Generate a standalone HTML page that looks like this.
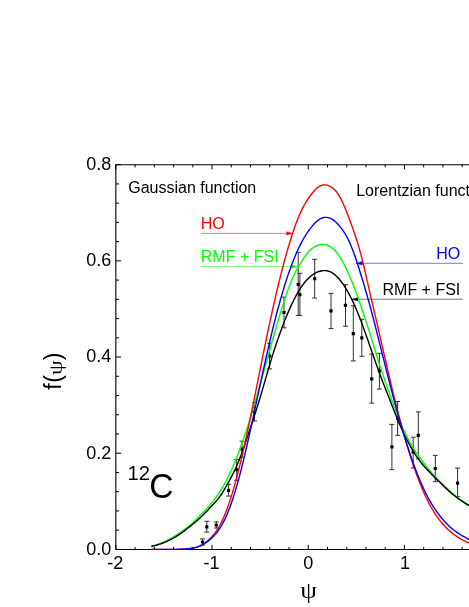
<!DOCTYPE html>
<html><head><meta charset="utf-8"><title>f(psi) 12C</title>
<style>html,body{margin:0;padding:0;background:#fff;}body{width:469px;height:607px;overflow:hidden;font-family:"Liberation Sans",sans-serif;}.sans text{font-family:"Liberation Sans",sans-serif;}.sans text.serif{font-family:"Liberation Serif",serif;}</style>
</head><body>
<svg width="469" height="607" viewBox="0 0 469 607" style="display:block;will-change:transform">
<rect width="469" height="607" fill="#fff"/>
<g fill="none" stroke="#303030" stroke-width="1.0"><path d="M202.5,538.9V545.1M200.1,538.9h4.9M200.1,545.1h4.9" /><path d="M206.8,521.3V532.1M204.4,521.3h4.9M204.4,532.1h4.9" /><path d="M216.3,521.9V528.0M213.9,521.9h4.9M213.9,528.0h4.9" /><path d="M228.6,484.3V496.1M226.2,484.3h4.9M226.2,496.1h4.9" /><path d="M236.7,459.5V480.3M234.2,459.5h4.9M234.2,480.3h4.9" /><path d="M242.0,441.2V457.2M239.6,441.2h4.9M239.6,457.2h4.9" /><path d="M254.5,402.5V421.0M252.1,402.5h4.9M252.1,421.0h4.9" /><path d="M269.6,343.3V368.9M267.2,343.3h4.9M267.2,368.9h4.9" /><path d="M284.0,297.1V327.8M281.6,297.1h4.9M281.6,327.8h4.9" /><path d="M298.2,252.3V315.4M295.8,252.3h4.9M295.8,315.4h4.9" /><path d="M299.9,273.3V315.4M297.4,273.3h4.9M297.4,315.4h4.9" /><path d="M314.7,259.3V298.0M312.2,259.3h4.9M312.2,298.0h4.9" /><path d="M331.0,293.4V328.5M328.6,293.4h4.9M328.6,328.5h4.9" /><path d="M345.5,284.7V326.2M343.1,284.7h4.9M343.1,326.2h4.9" /><path d="M353.3,305.7V360.9M350.9,305.7h4.9M350.9,360.9h4.9" /><path d="M361.8,319.3V356.3M359.4,319.3h4.9M359.4,356.3h4.9" /><path d="M371.7,354.1V403.1M369.2,354.1h4.9M369.2,403.1h4.9" /><path d="M379.4,353.3V389.1M376.9,353.3h4.9M376.9,389.1h4.9" /><path d="M397.6,401.5V435.3M395.2,401.5h4.9M395.2,435.3h4.9" /><path d="M391.9,424.4V469.6M389.4,424.4h4.9M389.4,469.6h4.9" /><path d="M418.3,411.9V458.9M415.9,411.9h4.9M415.9,458.9h4.9" /><path d="M413.2,437.2V468.0M410.8,437.2h4.9M410.8,468.0h4.9" /><path d="M435.3,455.4V481.7M432.9,455.4h4.9M432.9,481.7h4.9" /><path d="M457.6,468.1V496.7M455.2,468.1h4.9M455.2,496.7h4.9" /></g>
<g fill="#000"><rect x="200.9" y="540.4" width="3.2" height="3.2" rx="0.5"/><rect x="205.2" y="525.2" width="3.2" height="3.2" rx="0.5"/><rect x="214.7" y="523.4" width="3.2" height="3.2" rx="0.5"/><rect x="227.0" y="488.8" width="3.2" height="3.2" rx="0.5"/><rect x="235.1" y="468.1" width="3.2" height="3.2" rx="0.5"/><rect x="240.4" y="447.6" width="3.2" height="3.2" rx="0.5"/><rect x="252.9" y="410.4" width="3.2" height="3.2" rx="0.5"/><rect x="268.0" y="354.3" width="3.2" height="3.2" rx="0.5"/><rect x="282.4" y="310.9" width="3.2" height="3.2" rx="0.5"/><rect x="296.6" y="282.7" width="3.2" height="3.2" rx="0.5"/><rect x="298.3" y="293.0" width="3.2" height="3.2" rx="0.5"/><rect x="313.1" y="277.1" width="3.2" height="3.2" rx="0.5"/><rect x="329.4" y="309.2" width="3.2" height="3.2" rx="0.5"/><rect x="343.9" y="303.7" width="3.2" height="3.2" rx="0.5"/><rect x="351.7" y="332.0" width="3.2" height="3.2" rx="0.5"/><rect x="360.2" y="336.3" width="3.2" height="3.2" rx="0.5"/><rect x="370.1" y="377.2" width="3.2" height="3.2" rx="0.5"/><rect x="377.8" y="369.2" width="3.2" height="3.2" rx="0.5"/><rect x="396.0" y="416.8" width="3.2" height="3.2" rx="0.5"/><rect x="390.3" y="445.2" width="3.2" height="3.2" rx="0.5"/><rect x="416.7" y="433.7" width="3.2" height="3.2" rx="0.5"/><rect x="411.6" y="450.6" width="3.2" height="3.2" rx="0.5"/><rect x="433.7" y="466.9" width="3.2" height="3.2" rx="0.5"/><rect x="456.0" y="481.5" width="3.2" height="3.2" rx="0.5"/></g>
<path d="M201,233.4H287.6" stroke="#ff0000" stroke-width="0.55" fill="none"/><path d="M293.0,233.4l-6.4,-1.7v3.4z" fill="#ff0000" stroke="#ff0000" stroke-width="0.4" stroke-linejoin="round"/>
<path d="M201,266.6H292.6" stroke="#00ff00" stroke-width="0.55" fill="none"/><path d="M298.0,266.6l-6.4,-1.7v3.4z" fill="#00ff00" stroke="#00ff00" stroke-width="0.4" stroke-linejoin="round"/>
<path d="M462.9,263.3H361.4" stroke="#0000ff" stroke-width="0.55" fill="none"/><path d="M356.0,263.3l6.4,-1.7v3.4z" fill="#0000ff" stroke="#0000ff" stroke-width="0.4" stroke-linejoin="round"/>
<path d="M462.9,299.2H357.2" stroke="#000000" stroke-width="0.55" fill="none"/><path d="M351.8,299.2l6.4,-1.7v3.4z" fill="#000000" stroke="#000000" stroke-width="0.4" stroke-linejoin="round"/>
<path d="M115.85,550.0999999999999V164.7H470M115.3,549.55H470" fill="none" stroke="#000" stroke-width="1.1"/>
<path d="M115.85,549.40h5.3M115.85,530.16h3.2M115.85,510.93h3.2M115.85,491.69h3.2M115.85,472.46h3.2M115.85,453.22h5.3M115.85,433.98h3.2M115.85,414.75h3.2M115.85,395.51h3.2M115.85,376.28h3.2M115.85,357.04h5.3M115.85,337.80h3.2M115.85,318.57h3.2M115.85,299.33h3.2M115.85,280.10h3.2M115.85,260.86h5.3M115.85,241.62h3.2M115.85,222.39h3.2M115.85,203.15h3.2M115.85,183.92h3.2M115.85,164.68h5.3M115.85,549.55v-4.7M115.85,164.7v4.7M135.09,549.55v-2.7M135.09,164.7v2.7M154.33,549.55v-2.7M154.33,164.7v2.7M173.57,549.55v-2.7M173.57,164.7v2.7M192.81,549.55v-2.7M192.81,164.7v2.7M212.05,549.55v-4.7M212.05,164.7v4.7M231.29,549.55v-2.7M231.29,164.7v2.7M250.53,549.55v-2.7M250.53,164.7v2.7M269.77,549.55v-2.7M269.77,164.7v2.7M289.01,549.55v-2.7M289.01,164.7v2.7M308.25,549.55v-4.7M308.25,164.7v4.7M327.49,549.55v-2.7M327.49,164.7v2.7M346.73,549.55v-2.7M346.73,164.7v2.7M365.97,549.55v-2.7M365.97,164.7v2.7M385.21,549.55v-2.7M385.21,164.7v2.7M404.45,549.55v-4.7M404.45,164.7v4.7M423.69,549.55v-2.7M423.69,164.7v2.7M442.93,549.55v-2.7M442.93,164.7v2.7M462.17,549.55v-2.7M462.17,164.7v2.7" fill="none" stroke="#000" stroke-width="1"/>
<g fill="none" stroke-width="1.4" stroke-linejoin="round">
<path stroke="#00ff00" d="M151.3,546.20 L152.0,546.02 L153.0,545.76 L154.0,545.48 L155.0,545.19 L156.0,544.88 L157.0,544.56 L158.0,544.22 L159.0,543.87 L160.0,543.50 L161.0,543.12 L162.0,542.71 L163.0,542.30 L164.0,541.86 L165.0,541.41 L166.0,540.95 L167.0,540.46 L168.0,539.96 L169.0,539.44 L170.0,538.90 L171.0,538.34 L172.0,537.77 L173.0,537.18 L174.0,536.58 L175.0,535.96 L176.0,535.33 L177.0,534.69 L178.0,534.03 L179.0,533.37 L180.0,532.70 L181.0,532.02 L182.0,531.33 L183.0,530.63 L184.0,529.92 L185.0,529.18 L186.0,528.43 L187.0,527.66 L188.0,526.87 L189.0,526.05 L190.0,525.20 L191.0,524.32 L192.0,523.42 L193.0,522.49 L194.0,521.55 L195.0,520.58 L196.0,519.60 L197.0,518.61 L198.0,517.61 L199.0,516.61 L200.0,515.60 L201.0,514.59 L202.0,513.58 L203.0,512.57 L204.0,511.54 L205.0,510.51 L206.0,509.45 L207.0,508.38 L208.0,507.28 L209.0,506.15 L210.0,505.00 L211.0,503.81 L212.0,502.59 L213.0,501.33 L214.0,500.03 L215.0,498.70 L216.0,497.32 L217.0,495.91 L218.0,494.45 L219.0,492.95 L220.0,491.40 L221.0,489.81 L222.0,488.17 L223.0,486.48 L224.0,484.74 L225.0,482.94 L226.0,481.09 L227.0,479.18 L228.0,477.22 L229.0,475.19 L230.0,473.10 L231.0,470.95 L232.0,468.73 L233.0,466.45 L234.0,464.10 L235.0,461.70 L236.0,459.24 L237.0,456.71 L238.0,454.13 L239.0,451.49 L240.0,448.80 L241.0,446.05 L242.0,443.25 L243.0,440.39 L244.0,437.48 L245.0,434.52 L246.0,431.51 L247.0,428.45 L248.0,425.35 L249.0,422.20 L250.0,419.00 L251.0,415.76 L252.0,412.48 L253.0,409.16 L254.0,405.80 L255.0,402.41 L256.0,398.98 L257.0,395.53 L258.0,392.04 L259.0,388.53 L260.0,385.00 L261.0,381.44 L262.0,377.87 L263.0,374.28 L264.0,370.68 L265.0,367.08 L266.0,363.47 L267.0,359.87 L268.0,356.27 L269.0,352.68 L270.0,349.10 L271.0,345.54 L272.0,342.00 L273.0,338.48 L274.0,334.98 L275.0,331.50 L276.0,328.05 L277.0,324.62 L278.0,321.22 L279.0,317.84 L280.0,314.50 L281.0,311.19 L282.0,307.92 L283.0,304.70 L284.0,301.54 L285.0,298.45 L286.0,295.44 L287.0,292.52 L288.0,289.70 L289.0,286.99 L290.0,284.40 L291.0,281.94 L292.0,279.59 L293.0,277.36 L294.0,275.23 L295.0,273.19 L296.0,271.24 L297.0,269.36 L298.0,267.55 L299.0,265.80 L300.0,264.10 L301.0,262.44 L302.0,260.83 L303.0,259.27 L304.0,257.77 L305.0,256.33 L306.0,254.96 L307.0,253.67 L308.0,252.46 L309.0,251.33 L310.0,250.30 L311.0,249.37 L312.0,248.53 L313.0,247.78 L314.0,247.12 L315.0,246.55 L316.0,246.05 L317.0,245.63 L318.0,245.29 L319.0,245.01 L320.0,244.80 L321.0,244.65 L322.0,244.57 L323.0,244.55 L324.0,244.61 L325.0,244.74 L326.0,244.94 L327.0,245.23 L328.0,245.60 L329.0,246.06 L330.0,246.60 L331.0,247.24 L332.0,247.96 L333.0,248.79 L334.0,249.70 L335.0,250.71 L336.0,251.82 L337.0,253.02 L338.0,254.32 L339.0,255.71 L340.0,257.20 L341.0,258.79 L342.0,260.47 L343.0,262.25 L344.0,264.11 L345.0,266.06 L346.0,268.10 L347.0,270.21 L348.0,272.40 L349.0,274.66 L350.0,277.00 L351.0,279.40 L352.0,281.87 L353.0,284.40 L354.0,286.99 L355.0,289.63 L356.0,292.32 L357.0,295.05 L358.0,297.83 L359.0,300.65 L360.0,303.50 L361.0,306.39 L362.0,309.30 L363.0,312.25 L364.0,315.23 L365.0,318.25 L366.0,321.29 L367.0,324.37 L368.0,327.48 L369.0,330.62 L370.0,333.80 L371.0,337.01 L372.0,340.24 L373.0,343.49 L374.0,346.75 L375.0,350.00 L376.0,353.25 L377.0,356.49 L378.0,359.69 L379.0,362.87 L380.0,366.00 L381.0,369.09 L382.0,372.12 L383.0,375.12 L384.0,378.07 L385.0,380.99 L386.0,383.87 L387.0,386.72 L388.0,389.54 L389.0,392.33 L390.0,395.10 L391.0,397.85 L392.0,400.57 L393.0,403.27 L394.0,405.94 L395.0,408.58 L396.0,411.19 L397.0,413.75 L398.0,416.28 L399.0,418.76 L400.0,421.20 L401.0,423.59 L402.0,425.93 L403.0,428.21 L404.0,430.44 L405.0,432.61 L406.0,434.72 L407.0,436.76 L408.0,438.74 L409.0,440.66 L410.0,442.50 L411.0,444.27 L412.0,445.98 L413.0,447.63 L414.0,449.22 L415.0,450.77 L416.0,452.27 L417.0,453.74 L418.0,455.18 L419.0,456.60 L420.0,458.00 L421.0,459.39 L422.0,460.76 L423.0,462.12 L424.0,463.47 L425.0,464.79 L426.0,466.09 L427.0,467.36 L428.0,468.60 L429.0,469.82 L430.0,471.00 L431.0,472.15 L432.0,473.26 L433.0,474.35 L434.0,475.41 L435.0,476.46 L436.0,477.48 L437.0,478.50 L438.0,479.50 L439.0,480.50 L440.0,481.50 L441.0,482.50 L442.0,483.50 L443.0,484.50 L444.0,485.49 L445.0,486.48 L446.0,487.45 L447.0,488.41 L448.0,489.36 L449.0,490.29 L450.0,491.20 L451.0,492.09 L452.0,492.95 L453.0,493.79 L454.0,494.62 L455.0,495.42 L456.0,496.21 L457.0,496.98 L458.0,497.73 L459.0,498.47 L460.0,499.20 L461.0,499.91 L462.0,500.61 L463.0,501.30 L464.0,501.99 L465.0,502.66 L466.0,503.32 L467.0,503.98 L468.0,504.63 L469.0,505.28 L469.5,505.60"/>
<path stroke="#000" d="M151.3,546.40 L152.0,546.26 L153.0,546.05 L154.0,545.82 L155.0,545.58 L156.0,545.32 L157.0,545.04 L158.0,544.74 L159.0,544.43 L160.0,544.10 L161.0,543.75 L162.0,543.39 L163.0,543.01 L164.0,542.62 L165.0,542.20 L166.0,541.78 L167.0,541.33 L168.0,540.87 L169.0,540.39 L170.0,539.90 L171.0,539.39 L172.0,538.86 L173.0,538.32 L174.0,537.76 L175.0,537.18 L176.0,536.58 L177.0,535.97 L178.0,535.33 L179.0,534.68 L180.0,534.00 L181.0,533.30 L182.0,532.59 L183.0,531.86 L184.0,531.11 L185.0,530.35 L186.0,529.57 L187.0,528.79 L188.0,528.00 L189.0,527.20 L190.0,526.40 L191.0,525.60 L192.0,524.79 L193.0,523.97 L194.0,523.15 L195.0,522.31 L196.0,521.46 L197.0,520.60 L198.0,519.72 L199.0,518.82 L200.0,517.90 L201.0,516.96 L202.0,515.99 L203.0,515.01 L204.0,514.01 L205.0,512.99 L206.0,511.97 L207.0,510.93 L208.0,509.89 L209.0,508.85 L210.0,507.80 L211.0,506.75 L212.0,505.70 L213.0,504.63 L214.0,503.55 L215.0,502.43 L216.0,501.28 L217.0,500.09 L218.0,498.85 L219.0,497.56 L220.0,496.20 L221.0,494.77 L222.0,493.28 L223.0,491.73 L224.0,490.12 L225.0,488.46 L226.0,486.75 L227.0,484.99 L228.0,483.19 L229.0,481.36 L230.0,479.50 L231.0,477.61 L232.0,475.68 L233.0,473.71 L234.0,471.69 L235.0,469.60 L236.0,467.45 L237.0,465.22 L238.0,462.91 L239.0,460.51 L240.0,458.00 L241.0,455.39 L242.0,452.68 L243.0,449.88 L244.0,447.02 L245.0,444.09 L246.0,441.12 L247.0,438.11 L248.0,435.08 L249.0,432.04 L250.0,429.00 L251.0,425.97 L252.0,422.95 L253.0,419.93 L254.0,416.89 L255.0,413.84 L256.0,410.76 L257.0,407.64 L258.0,404.48 L259.0,401.27 L260.0,398.00 L261.0,394.66 L262.0,391.27 L263.0,387.84 L264.0,384.37 L265.0,380.89 L266.0,377.41 L267.0,373.94 L268.0,370.48 L269.0,367.07 L270.0,363.70 L271.0,360.39 L272.0,357.14 L273.0,353.95 L274.0,350.82 L275.0,347.75 L276.0,344.73 L277.0,341.77 L278.0,338.86 L279.0,336.00 L280.0,333.20 L281.0,330.45 L282.0,327.75 L283.0,325.10 L284.0,322.50 L285.0,319.96 L286.0,317.48 L287.0,315.05 L288.0,312.67 L289.0,310.36 L290.0,308.10 L291.0,305.90 L292.0,303.77 L293.0,301.69 L294.0,299.68 L295.0,297.73 L296.0,295.85 L297.0,294.03 L298.0,292.29 L299.0,290.61 L300.0,289.00 L301.0,287.46 L302.0,286.00 L303.0,284.60 L304.0,283.28 L305.0,282.03 L306.0,280.84 L307.0,279.73 L308.0,278.69 L309.0,277.71 L310.0,276.80 L311.0,275.96 L312.0,275.18 L313.0,274.47 L314.0,273.83 L315.0,273.24 L316.0,272.72 L317.0,272.25 L318.0,271.85 L319.0,271.50 L320.0,271.20 L321.0,270.96 L322.0,270.77 L323.0,270.65 L324.0,270.58 L325.0,270.58 L326.0,270.66 L327.0,270.80 L328.0,271.02 L329.0,271.32 L330.0,271.70 L331.0,272.17 L332.0,272.72 L333.0,273.35 L334.0,274.06 L335.0,274.86 L336.0,275.73 L337.0,276.68 L338.0,277.71 L339.0,278.82 L340.0,280.00 L341.0,281.25 L342.0,282.58 L343.0,283.98 L344.0,285.45 L345.0,287.00 L346.0,288.62 L347.0,290.31 L348.0,292.07 L349.0,293.90 L350.0,295.80 L351.0,297.77 L352.0,299.81 L353.0,301.92 L354.0,304.10 L355.0,306.34 L356.0,308.65 L357.0,311.02 L358.0,313.45 L359.0,315.95 L360.0,318.50 L361.0,321.11 L362.0,323.78 L363.0,326.49 L364.0,329.24 L365.0,332.03 L366.0,334.84 L367.0,337.69 L368.0,340.55 L369.0,343.42 L370.0,346.30 L371.0,349.18 L372.0,352.06 L373.0,354.93 L374.0,357.79 L375.0,360.64 L376.0,363.46 L377.0,366.27 L378.0,369.04 L379.0,371.79 L380.0,374.50 L381.0,377.17 L382.0,379.81 L383.0,382.42 L384.0,385.01 L385.0,387.58 L386.0,390.13 L387.0,392.67 L388.0,395.21 L389.0,397.75 L390.0,400.30 L391.0,402.86 L392.0,405.42 L393.0,407.97 L394.0,410.52 L395.0,413.05 L396.0,415.56 L397.0,418.03 L398.0,420.47 L399.0,422.86 L400.0,425.20 L401.0,427.48 L402.0,429.71 L403.0,431.88 L404.0,433.99 L405.0,436.05 L406.0,438.06 L407.0,440.02 L408.0,441.92 L409.0,443.79 L410.0,445.60 L411.0,447.37 L412.0,449.09 L413.0,450.77 L414.0,452.41 L415.0,453.99 L416.0,455.53 L417.0,457.02 L418.0,458.46 L419.0,459.86 L420.0,461.20 L421.0,462.50 L422.0,463.74 L423.0,464.95 L424.0,466.12 L425.0,467.26 L426.0,468.37 L427.0,469.45 L428.0,470.52 L429.0,471.57 L430.0,472.60 L431.0,473.63 L432.0,474.64 L433.0,475.66 L434.0,476.66 L435.0,477.66 L436.0,478.66 L437.0,479.65 L438.0,480.64 L439.0,481.62 L440.0,482.60 L441.0,483.58 L442.0,484.55 L443.0,485.52 L444.0,486.49 L445.0,487.44 L446.0,488.38 L447.0,489.31 L448.0,490.22 L449.0,491.12 L450.0,492.00 L451.0,492.86 L452.0,493.70 L453.0,494.52 L454.0,495.32 L455.0,496.11 L456.0,496.88 L457.0,497.63 L458.0,498.37 L459.0,499.09 L460.0,499.80 L461.0,500.50 L462.0,501.18 L463.0,501.85 L464.0,502.52 L465.0,503.17 L466.0,503.81 L467.0,504.45 L468.0,505.07 L469.0,505.69 L469.5,506.00"/>
<path stroke="#ff0000" d="M151.3,549.40 L152.0,549.40 L153.0,549.39 L154.0,549.39 L155.0,549.39 L156.0,549.39 L157.0,549.39 L158.0,549.40 L159.0,549.40 L160.0,549.40 L161.0,549.40 L162.0,549.40 L163.0,549.40 L164.0,549.40 L165.0,549.40 L166.0,549.40 L167.0,549.40 L168.0,549.40 L169.0,549.40 L170.0,549.40 L171.0,549.39 L172.0,549.39 L173.0,549.38 L174.0,549.36 L175.0,549.35 L176.0,549.33 L177.0,549.30 L178.0,549.27 L179.0,549.24 L180.0,549.20 L181.0,549.16 L182.0,549.10 L183.0,549.05 L184.0,548.98 L185.0,548.91 L186.0,548.83 L187.0,548.74 L188.0,548.63 L189.0,548.52 L190.0,548.40 L191.0,548.27 L192.0,548.11 L193.0,547.94 L194.0,547.75 L195.0,547.52 L196.0,547.26 L197.0,546.96 L198.0,546.62 L199.0,546.24 L200.0,545.80 L201.0,545.31 L202.0,544.76 L203.0,544.16 L204.0,543.50 L205.0,542.79 L206.0,542.04 L207.0,541.23 L208.0,540.37 L209.0,539.46 L210.0,538.50 L211.0,537.49 L212.0,536.43 L213.0,535.31 L214.0,534.11 L215.0,532.84 L216.0,531.48 L217.0,530.02 L218.0,528.46 L219.0,526.79 L220.0,525.00 L221.0,523.09 L222.0,521.05 L223.0,518.88 L224.0,516.60 L225.0,514.19 L226.0,511.66 L227.0,509.02 L228.0,506.26 L229.0,503.39 L230.0,500.40 L231.0,497.30 L232.0,494.09 L233.0,490.77 L234.0,487.35 L235.0,483.81 L236.0,480.18 L237.0,476.43 L238.0,472.59 L239.0,468.65 L240.0,464.60 L241.0,460.46 L242.0,456.22 L243.0,451.90 L244.0,447.49 L245.0,443.00 L246.0,438.45 L247.0,433.82 L248.0,429.14 L249.0,424.39 L250.0,419.60 L251.0,414.76 L252.0,409.88 L253.0,404.96 L254.0,400.02 L255.0,395.06 L256.0,390.07 L257.0,385.08 L258.0,380.08 L259.0,375.09 L260.0,370.10 L261.0,365.12 L262.0,360.17 L263.0,355.23 L264.0,350.32 L265.0,345.44 L266.0,340.59 L267.0,335.77 L268.0,331.00 L269.0,326.28 L270.0,321.60 L271.0,316.98 L272.0,312.41 L273.0,307.89 L274.0,303.44 L275.0,299.05 L276.0,294.72 L277.0,290.46 L278.0,286.27 L279.0,282.15 L280.0,278.10 L281.0,274.13 L282.0,270.23 L283.0,266.40 L284.0,262.65 L285.0,258.97 L286.0,255.37 L287.0,251.84 L288.0,248.39 L289.0,245.01 L290.0,241.70 L291.0,238.47 L292.0,235.32 L293.0,232.25 L294.0,229.27 L295.0,226.39 L296.0,223.61 L297.0,220.93 L298.0,218.37 L299.0,215.92 L300.0,213.60 L301.0,211.40 L302.0,209.33 L303.0,207.37 L304.0,205.51 L305.0,203.74 L306.0,202.07 L307.0,200.48 L308.0,198.96 L309.0,197.50 L310.0,196.10 L311.0,194.75 L312.0,193.46 L313.0,192.23 L314.0,191.07 L315.0,189.98 L316.0,188.99 L317.0,188.08 L318.0,187.28 L319.0,186.58 L320.0,186.00 L321.0,185.54 L322.0,185.19 L323.0,184.97 L324.0,184.85 L325.0,184.84 L326.0,184.94 L327.0,185.13 L328.0,185.43 L329.0,185.82 L330.0,186.30 L331.0,186.87 L332.0,187.53 L333.0,188.30 L334.0,189.18 L335.0,190.18 L336.0,191.30 L337.0,192.55 L338.0,193.95 L339.0,195.50 L340.0,197.20 L341.0,199.06 L342.0,201.08 L343.0,203.22 L344.0,205.49 L345.0,207.87 L346.0,210.33 L347.0,212.87 L348.0,215.47 L349.0,218.12 L350.0,220.80 L351.0,223.50 L352.0,226.24 L353.0,229.02 L354.0,231.87 L355.0,234.80 L356.0,237.82 L357.0,240.96 L358.0,244.23 L359.0,247.63 L360.0,251.20 L361.0,254.94 L362.0,258.83 L363.0,262.85 L364.0,266.99 L365.0,271.22 L366.0,275.53 L367.0,279.89 L368.0,284.29 L369.0,288.70 L370.0,293.10 L371.0,297.48 L372.0,301.84 L373.0,306.18 L374.0,310.50 L375.0,314.82 L376.0,319.13 L377.0,323.44 L378.0,327.75 L379.0,332.07 L380.0,336.40 L381.0,340.74 L382.0,345.10 L383.0,349.46 L384.0,353.81 L385.0,358.17 L386.0,362.51 L387.0,366.84 L388.0,371.16 L389.0,375.44 L390.0,379.70 L391.0,383.92 L392.0,388.11 L393.0,392.26 L394.0,396.36 L395.0,400.43 L396.0,404.44 L397.0,408.41 L398.0,412.33 L399.0,416.19 L400.0,420.00 L401.0,423.75 L402.0,427.44 L403.0,431.07 L404.0,434.65 L405.0,438.16 L406.0,441.61 L407.0,445.00 L408.0,448.33 L409.0,451.60 L410.0,454.80 L411.0,457.94 L412.0,461.02 L413.0,464.03 L414.0,466.98 L415.0,469.86 L416.0,472.68 L417.0,475.43 L418.0,478.12 L419.0,480.74 L420.0,483.30 L421.0,485.79 L422.0,488.22 L423.0,490.58 L424.0,492.87 L425.0,495.09 L426.0,497.25 L427.0,499.34 L428.0,501.36 L429.0,503.32 L430.0,505.20 L431.0,507.01 L432.0,508.76 L433.0,510.45 L434.0,512.07 L435.0,513.63 L436.0,515.13 L437.0,516.57 L438.0,517.97 L439.0,519.31 L440.0,520.60 L441.0,521.85 L442.0,523.04 L443.0,524.20 L444.0,525.31 L445.0,526.39 L446.0,527.42 L447.0,528.42 L448.0,529.38 L449.0,530.31 L450.0,531.20 L451.0,532.06 L452.0,532.89 L453.0,533.70 L454.0,534.47 L455.0,535.21 L456.0,535.92 L457.0,536.61 L458.0,537.27 L459.0,537.90 L460.0,538.50 L461.0,539.08 L462.0,539.63 L463.0,540.16 L464.0,540.66 L465.0,541.14 L466.0,541.59 L467.0,542.02 L468.0,542.43 L469.0,542.82 L469.5,543.00"/>
<path stroke="#0000ff" d="M151.3,549.40 L152.0,549.40 L153.0,549.40 L154.0,549.40 L155.0,549.40 L156.0,549.40 L157.0,549.40 L158.0,549.40 L159.0,549.40 L160.0,549.40 L161.0,549.40 L162.0,549.40 L163.0,549.40 L164.0,549.40 L165.0,549.40 L166.0,549.40 L167.0,549.40 L168.0,549.40 L169.0,549.40 L170.0,549.40 L171.0,549.40 L172.0,549.40 L173.0,549.39 L174.0,549.39 L175.0,549.38 L176.0,549.37 L177.0,549.36 L178.0,549.34 L179.0,549.32 L180.0,549.30 L181.0,549.27 L182.0,549.23 L183.0,549.19 L184.0,549.14 L185.0,549.08 L186.0,549.01 L187.0,548.93 L188.0,548.83 L189.0,548.72 L190.0,548.60 L191.0,548.46 L192.0,548.30 L193.0,548.12 L194.0,547.91 L195.0,547.68 L196.0,547.42 L197.0,547.12 L198.0,546.79 L199.0,546.41 L200.0,546.00 L201.0,545.54 L202.0,545.04 L203.0,544.49 L204.0,543.90 L205.0,543.27 L206.0,542.59 L207.0,541.88 L208.0,541.13 L209.0,540.33 L210.0,539.50 L211.0,538.63 L212.0,537.71 L213.0,536.75 L214.0,535.72 L215.0,534.63 L216.0,533.47 L217.0,532.24 L218.0,530.92 L219.0,529.51 L220.0,528.00 L221.0,526.39 L222.0,524.68 L223.0,522.85 L224.0,520.92 L225.0,518.88 L226.0,516.72 L227.0,514.44 L228.0,512.05 L229.0,509.54 L230.0,506.90 L231.0,504.14 L232.0,501.26 L233.0,498.25 L234.0,495.13 L235.0,491.90 L236.0,488.55 L237.0,485.10 L238.0,481.54 L239.0,477.87 L240.0,474.10 L241.0,470.23 L242.0,466.27 L243.0,462.22 L244.0,458.09 L245.0,453.88 L246.0,449.61 L247.0,445.26 L248.0,440.86 L249.0,436.40 L250.0,431.90 L251.0,427.35 L252.0,422.77 L253.0,418.16 L254.0,413.52 L255.0,408.86 L256.0,404.19 L257.0,399.52 L258.0,394.84 L259.0,390.16 L260.0,385.50 L261.0,380.85 L262.0,376.22 L263.0,371.62 L264.0,367.05 L265.0,362.51 L266.0,358.01 L267.0,353.56 L268.0,349.15 L269.0,344.80 L270.0,340.50 L271.0,336.27 L272.0,332.09 L273.0,327.99 L274.0,323.95 L275.0,319.98 L276.0,316.08 L277.0,312.25 L278.0,308.49 L279.0,304.81 L280.0,301.20 L281.0,297.67 L282.0,294.22 L283.0,290.84 L284.0,287.55 L285.0,284.33 L286.0,281.19 L287.0,278.12 L288.0,275.14 L289.0,272.23 L290.0,269.40 L291.0,266.65 L292.0,263.97 L293.0,261.38 L294.0,258.86 L295.0,256.42 L296.0,254.06 L297.0,251.77 L298.0,249.57 L299.0,247.45 L300.0,245.40 L301.0,243.43 L302.0,241.54 L303.0,239.73 L304.0,237.99 L305.0,236.31 L306.0,234.71 L307.0,233.16 L308.0,231.68 L309.0,230.26 L310.0,228.90 L311.0,227.59 L312.0,226.34 L313.0,225.16 L314.0,224.04 L315.0,222.99 L316.0,222.02 L317.0,221.14 L318.0,220.33 L319.0,219.62 L320.0,219.00 L321.0,218.48 L322.0,218.05 L323.0,217.73 L324.0,217.50 L325.0,217.37 L326.0,217.34 L327.0,217.41 L328.0,217.58 L329.0,217.84 L330.0,218.20 L331.0,218.66 L332.0,219.21 L333.0,219.85 L334.0,220.58 L335.0,221.40 L336.0,222.29 L337.0,223.26 L338.0,224.31 L339.0,225.42 L340.0,226.60 L341.0,227.84 L342.0,229.16 L343.0,230.55 L344.0,232.04 L345.0,233.62 L346.0,235.31 L347.0,237.11 L348.0,239.04 L349.0,241.10 L350.0,243.30 L351.0,245.65 L352.0,248.14 L353.0,250.76 L354.0,253.49 L355.0,256.33 L356.0,259.26 L357.0,262.28 L358.0,265.36 L359.0,268.51 L360.0,271.70 L361.0,274.93 L362.0,278.20 L363.0,281.51 L364.0,284.87 L365.0,288.27 L366.0,291.71 L367.0,295.20 L368.0,298.75 L369.0,302.35 L370.0,306.00 L371.0,309.71 L372.0,313.47 L373.0,317.28 L374.0,321.12 L375.0,325.01 L376.0,328.92 L377.0,332.87 L378.0,336.83 L379.0,340.81 L380.0,344.80 L381.0,348.80 L382.0,352.80 L383.0,356.79 L384.0,360.79 L385.0,364.78 L386.0,368.75 L387.0,372.72 L388.0,376.67 L389.0,380.59 L390.0,384.50 L391.0,388.38 L392.0,392.23 L393.0,396.05 L394.0,399.84 L395.0,403.59 L396.0,407.30 L397.0,410.97 L398.0,414.59 L399.0,418.17 L400.0,421.70 L401.0,425.18 L402.0,428.60 L403.0,431.97 L404.0,435.29 L405.0,438.55 L406.0,441.75 L407.0,444.90 L408.0,447.99 L409.0,451.03 L410.0,454.00 L411.0,456.92 L412.0,459.77 L413.0,462.57 L414.0,465.31 L415.0,467.98 L416.0,470.60 L417.0,473.17 L418.0,475.67 L419.0,478.11 L420.0,480.50 L421.0,482.83 L422.0,485.10 L423.0,487.31 L424.0,489.46 L425.0,491.55 L426.0,493.58 L427.0,495.55 L428.0,497.46 L429.0,499.31 L430.0,501.10 L431.0,502.83 L432.0,504.49 L433.0,506.10 L434.0,507.66 L435.0,509.16 L436.0,510.61 L437.0,512.02 L438.0,513.39 L439.0,514.71 L440.0,516.00 L441.0,517.25 L442.0,518.47 L443.0,519.65 L444.0,520.79 L445.0,521.90 L446.0,522.97 L447.0,524.01 L448.0,525.01 L449.0,525.97 L450.0,526.90 L451.0,527.79 L452.0,528.65 L453.0,529.47 L454.0,530.26 L455.0,531.01 L456.0,531.74 L457.0,532.45 L458.0,533.12 L459.0,533.77 L460.0,534.40 L461.0,535.01 L462.0,535.59 L463.0,536.16 L464.0,536.71 L465.0,537.24 L466.0,537.77 L467.0,538.27 L468.0,538.77 L469.0,539.26 L469.5,539.50"/>
</g>
<g class="sans" fill="#000">
<text x="111.2" y="170.1" font-size="18" text-anchor="end">0.8</text>
<text x="111.2" y="266.3" font-size="18" text-anchor="end">0.6</text>
<text x="111.2" y="362.4" font-size="18" text-anchor="end">0.4</text>
<text x="111.2" y="458.6" font-size="18" text-anchor="end">0.2</text>
<text x="111.2" y="554.8" font-size="18" text-anchor="end">0.0</text>
<text x="115.2" y="569.0" font-size="18" text-anchor="middle">-2</text>
<text x="211.5" y="569.0" font-size="18" text-anchor="middle">-1</text>
<text x="308.2" y="569.0" font-size="18" text-anchor="middle">0</text>
<text x="405.1" y="569.0" font-size="18" text-anchor="middle">1</text>
<text x="128.2" y="193.3" font-size="16">Gaussian function</text>
<text x="356.2" y="196.2" font-size="16">Lorentzian function</text>
<text x="200.8" y="229.3" font-size="16" fill="#ff0000">HO</text>
<text x="200.8" y="261.6" font-size="16" fill="#00ff00">RMF + FSI</text>
<text x="460.3" y="259.2" font-size="16" fill="#0000ff" text-anchor="end">HO</text>
<text x="460.3" y="294.6" font-size="16" text-anchor="end">RMF + FSI</text>
<text x="127.4" y="479.8" font-size="20.3">12</text>
<text transform="translate(149.3,498.2) scale(0.96,1)" font-size="35">C</text>
<text transform="translate(308.7,597.9) scale(1.2,1)" font-size="22.2" text-anchor="middle" class="serif">ψ</text>
<g transform="translate(61.2,372) rotate(-90)" font-size="23" text-anchor="middle">
<text x="-14.5" y="0">f</text><text x="-7.0" y="0">(</text><text x="15.7" y="0">)</text>
<text transform="translate(4.3,1.0) scale(1.24,1)" font-size="19" class="serif">ψ</text>
</g>
</g>
</svg>
</body></html>
